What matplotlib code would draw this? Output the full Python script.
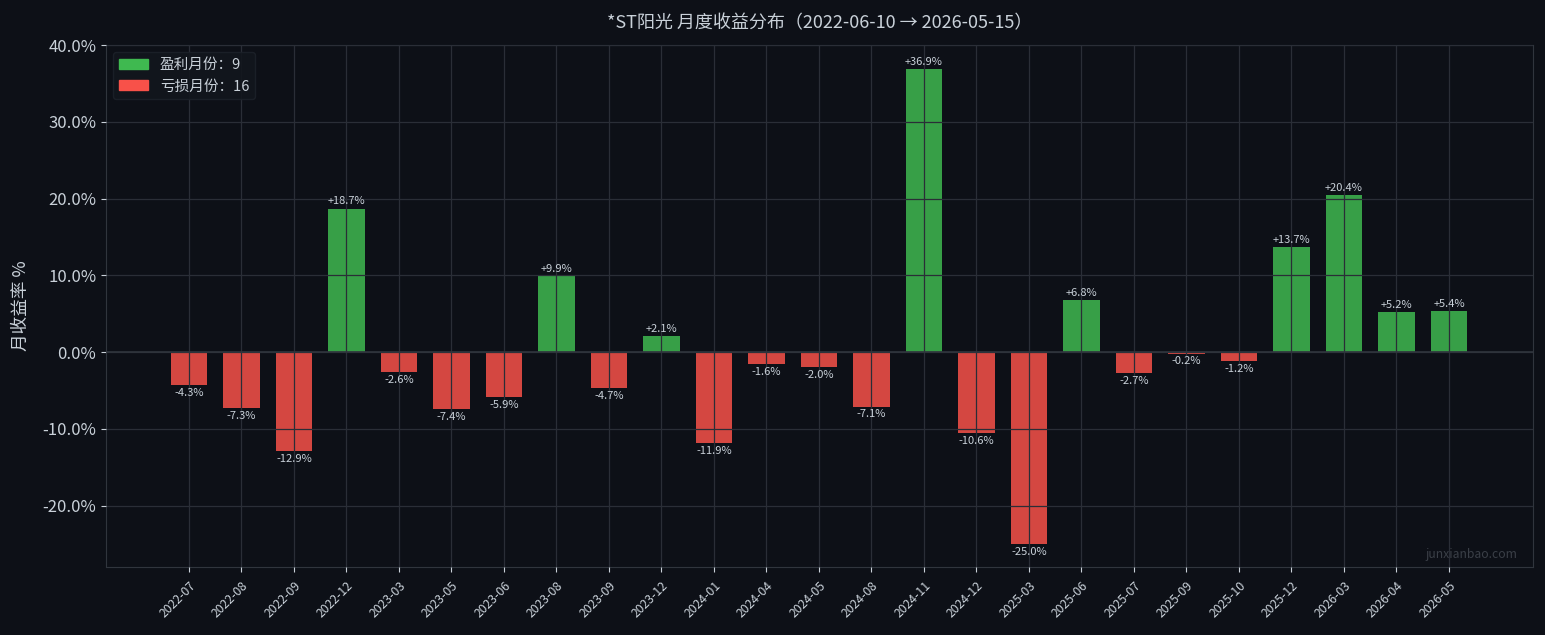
import matplotlib
matplotlib.use("Agg")
import matplotlib.pyplot as plt
from matplotlib.patches import Patch
from matplotlib.ticker import FuncFormatter

months = ["2022-07", "2022-08", "2022-09", "2022-12", "2023-03", "2023-05", "2023-06",
          "2023-08", "2023-09", "2023-12", "2024-01", "2024-04", "2024-05", "2024-08",
          "2024-11", "2024-12", "2025-03", "2025-06", "2025-07", "2025-09", "2025-10",
          "2025-12", "2026-03", "2026-04", "2026-05"]
returns = [-4.3, -7.3, -12.9, 18.7, -2.6, -7.4, -5.9, 9.9, -4.7, 2.1, -11.9, -1.6, -2.0,
           -7.1, 36.9, -10.6, -25.0, 6.8, -2.7, -0.2, -1.2, 13.7, 20.4, 5.2, 5.4]
title = "*ST阳光 月度收益分布（2022-06-10 → 2026-05-15）"

plt.rcParams['font.family'] = ['Noto Sans CJK SC', 'DejaVu Sans']
plt.rcParams['axes.unicode_minus'] = False

BG = "#0d1017"
TXT = "#c9d1d9"
GREEN = "#3fb950"
RED = "#f85149"
GRID = "#2a2e37"

fig = plt.figure(figsize=(15.45, 6.35), dpi=100, facecolor=BG)
ax = fig.add_axes([106/1545, 1-567/635, (1533-106)/1545, (567-45)/635])
ax.set_facecolor(BG)

x = list(range(len(months)))
colors = [GREEN if r > 0 else RED for r in returns]
ax.bar(x, returns, width=0.7, color=colors, alpha=0.85, zorder=1)

ax.grid(True, color=GRID, linewidth=0.9, zorder=2)
ax.set_axisbelow(False)
ax.axhline(0, color="#30353d", linewidth=1.2, zorder=3)

for xi, r in zip(x, returns):
    lab = f"{r:+.1f}%"
    if r > 0:
        ax.annotate(lab, (xi, r), xytext=(0, 1.5), textcoords="offset points",
                    ha="center", va="bottom", fontsize=8, color=TXT, zorder=4)
    else:
        ax.annotate(lab, (xi, r), xytext=(0, -2), textcoords="offset points",
                    ha="center", va="top", fontsize=8, color=TXT, zorder=4)

ax.set_xlim(-1.58, 25.6)
ax.set_ylim(-28, 40)
ax.set_yticks([-20, -10, 0, 10, 20, 30, 40])
ax.yaxis.set_major_formatter(FuncFormatter(lambda v, p: f"{v:.1f}%"))
ax.set_xticks(x)
ax.set_xticklabels(months, rotation=45, ha="right", rotation_mode="anchor", fontsize=8.8, color=TXT)
ax.tick_params(axis="y", colors=TXT, labelsize=12)
ax.tick_params(axis="x", colors=TXT, pad=5)
ax.set_ylabel("月收益率 %", color=TXT, fontsize=12.7, labelpad=9)

for s in ax.spines.values():
    s.set_color("#30353d")

ax.set_title(title, color=TXT, fontsize=13, pad=12)

n_pos = sum(1 for r in returns if r > 0)
n_neg = sum(1 for r in returns if r < 0)
handles = [Patch(color=GREEN, label=f"盈利月份：{n_pos}"),
           Patch(color=RED, label=f"亏损月份：{n_neg}")]
leg = ax.legend(handles=handles, loc="upper left", fontsize=10.5, facecolor="#12161d",
                edgecolor="#1c2129", labelcolor=TXT, framealpha=0.9)

ax.text(0.989, 0.012, "junxianbao.com", transform=ax.transAxes, ha="right", va="bottom",
        fontsize=8.8, color="#3a3f47", zorder=5)

fig.savefig("out.png", dpi=100, facecolor=BG)
